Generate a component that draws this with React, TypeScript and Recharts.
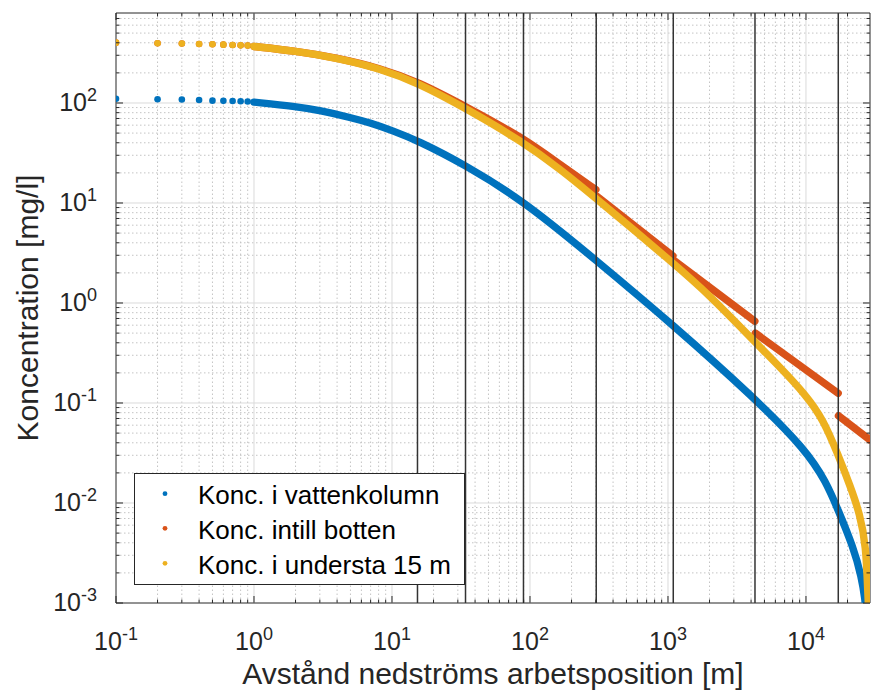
import React from 'react';
import {
  ComposedChart,
  Line,
  Scatter,
  XAxis,
  YAxis,
  ReferenceLine,
  ReferenceArea,
  Legend,
} from 'recharts';

const FONT = '"Liberation Sans", Arial, Helvetica, sans-serif';
const BLUE = '#0072BD';
const RED = '#D95319';
const YEL = '#EDB120';
const AX = '#262626';

const W = 871;
const H = 693;
const PT = 13;
const PB = 603;
const PL = 116;
const PR = 870;

const X_DOMAIN = [0.1, 29100];
const Y_DOMAIN = [0.001, 794];

// ticks
const xMajorTicks = [0.1, 1, 10, 100, 1000, 10000];
const yMajorTicks = [0.001, 0.01, 0.1, 1, 10, 100];
const minorFactors = [2, 3, 4, 5, 6, 7, 8, 9];

const xMinorTicks = xMajorTicks
  .flatMap((d) => minorFactors.map((m) => +(m * d).toPrecision(3)))
  .filter((v) => v < X_DOMAIN[1]);
const yMinorTicks = yMajorTicks
  .flatMap((d) => minorFactors.map((m) => +(m * d).toPrecision(3)))
  .filter((v) => v < Y_DOMAIN[1]);

const xAllTicks = [...xMajorTicks, ...xMinorTicks].sort((a, b) => a - b);
const yAllTicks = [...yMajorTicks, ...yMinorTicks].sort((a, b) => a - b);

// vertical black lines (section boundaries)
const sectionX = [15.3, 34.1, 89.7, 302, 1092, 4270, 17140];

// series names
const NAME_BLUE = 'Konc. i vattenkolumn';
const NAME_RED = 'Konc. intill botten';
const NAME_YEL = 'Konc. i understa 15 m';

// sparse first samples (x = 0.1 ... 0.9)
const sparseX = [0.1, 0.2, 0.3, 0.4, 0.5, 0.6, 0.7, 0.8, 0.9];
const sparseBlue = [110, 109, 108.5, 107, 105.5, 105, 104.5, 104, 103.5];
const sparseRed = [401, 396, 393, 389, 387, 383, 380, 377, 375];
const sparseYellow = [401, 396, 393, 389, 387, 383, 380, 377, 375];

// blue: Konc. i vattenkolumn
const blueX = [1, 2, 3, 5, 7, 10, 15.3, 34, 90, 300, 1090, 4270, 10000, 14000, 17100, 22000, 25300, 26800, 27300];
const blueY = [102, 92.3, 84.1, 71.6, 63.1, 53.1, 42.2, 24, 10.5, 2.69, 0.603, 0.111, 0.0339, 0.0162, 0.0085, 0.00363, 0.00182, 0.00107, 0.0008];

// yellow: Konc. i understa 15 m
const yelX = [1, 2, 4, 8.2, 15.5, 34.4, 89, 165, 300, 1090, 2000, 4270, 6460, 10000, 13400, 17100, 20800, 24600, 27200, 28000, 28500];
const yelY = [367, 331, 282, 221, 158, 88.1, 40.7, 21.9, 11.2, 2.51, 1.2, 0.407, 0.229, 0.12, 0.0676, 0.0302, 0.0151, 0.00776, 0.00372, 0.00132, 0.0008];

// red: Konc. intill botten, in segments
const red1X = [1, 2, 4, 8.2, 15.5, 34.4, 89, 165, 300];
const red1Y = [367, 331, 283, 223, 163, 92, 45, 24.2, 13.6];
const red2X = [303, 1085];
const red2Y = [11.8, 2.95];
const red3X = [1095, 4260];
const red3Y = [2.69, 0.656];
const red4X = [4290, 17100];
const red4Y = [0.5, 0.125];
const red5X = [17200, 29100];
const red5Y = [0.0745, 0.0427];

const pts = (xs: number[], ys: number[]) => xs.map((x, i) => ({ x, y: ys[i] }));

const legendItems = [
  { name: NAME_BLUE, color: BLUE },
  { name: NAME_RED, color: RED },
  { name: NAME_YEL, color: YEL },
];

const isMajor = (v: number) => {
  const l = Math.log10(v);
  return Math.abs(l - Math.round(l)) < 1e-6;
};

const XTick = (props: any) => {
  const { x, payload } = props;
  const v = payload.value;
  const major = isMajor(v);
  const len = major ? 7 : 3.5;
  const e = Math.round(Math.log10(v));
  return (
    <g>
      <line x1={x} y1={PB} x2={x} y2={PB - len} stroke={AX} strokeWidth={1} />
      <line x1={x} y1={PT} x2={x} y2={PT + len} stroke={AX} strokeWidth={1} />
      {major && (
        <text x={x} y={650} textAnchor="middle" fontSize={25} fill={AX} fontFamily={FONT}>
          10
          <tspan fontSize={18} dy={-10.5}>
            {e < 0 ? '-' + Math.abs(e) : String(e)}
          </tspan>
        </text>
      )}
    </g>
  );
};

const YTick = (props: any) => {
  const { y, payload } = props;
  const v = payload.value;
  const major = isMajor(v);
  const len = major ? 7 : 3.5;
  const e = Math.round(Math.log10(v));
  return (
    <g>
      <line x1={PL} y1={y} x2={PL + len} y2={y} stroke={AX} strokeWidth={1} />
      <line x1={PR} y1={y} x2={PR - len} y2={y} stroke={AX} strokeWidth={1} />
      {major && (
        <text x={97} y={y + 8} textAnchor="end" fontSize={25} fill={AX} fontFamily={FONT}>
          10
          <tspan fontSize={18} dy={-10}>
            {e < 0 ? '-' + Math.abs(e) : String(e)}
          </tspan>
        </text>
      )}
    </g>
  );
};

const XTitle = () => (
  <text x={(PL + PR) / 2} y={684} textAnchor="middle" fontSize={30} fill={AX} fontFamily={FONT}>
    Avstånd nedströms arbetsposition [m]
  </text>
);

const YTitle = () => (
  <text
    x={38}
    y={(PT + PB) / 2}
    transform={`rotate(-90, 38, ${(PT + PB) / 2})`}
    textAnchor="middle"
    fontSize={30}
    fill={AX}
    fontFamily={FONT}
  >
    Koncentration [mg/l]
  </text>
);

const LegendBox = () => {
  const dotY = [20.7, 55.3, 90.3];
  const textY = [31.3, 66, 100.5];
  return (
    <svg width={331} height={112} style={{ display: 'block' }}>
      <rect x={0.5} y={0.5} width={330} height={111} fill="#ffffff" stroke={AX} strokeWidth={1} />
      {legendItems.map((it, i) => (
        <g key={it.name}>
          <circle cx={31} cy={dotY[i]} r={2.4} fill={it.color} />
          <text x={64} y={textY[i]} fontSize={26} fill="#000" fontFamily={FONT}>
            {it.name}
          </text>
        </g>
      ))}
    </svg>
  );
};

const dotShape = (color: string) => (p: any) => <circle cx={p.cx} cy={p.cy} r={3.3} fill={color} />;

const lineCommon = {
  dataKey: 'y',
  dot: false,
  activeDot: false,
  isAnimationActive: false,
  strokeWidth: 7.4,
  strokeLinecap: 'round' as const,
  strokeLinejoin: 'round' as const,
  legendType: 'none' as const,
};

export default function App() {
  return (
    <div style={{ position: 'absolute', left: 0, top: 0, background: '#fff' }}>
      <ComposedChart
        width={W}
        height={H}
        margin={{ top: PT, right: W - PR, bottom: 0, left: 0 }}
        style={{ fontFamily: FONT }}
      >
        <XAxis
          type="number"
          dataKey="x"
          scale="log"
          domain={X_DOMAIN}
          allowDataOverflow
          ticks={xAllTicks}
          interval={0}
          tick={(p: any) => <XTick {...p} />}
          tickLine={false}
          axisLine={false}
          height={H - PB}
          label={<XTitle />}
        />
        <YAxis
          type="number"
          dataKey="y"
          scale="log"
          domain={Y_DOMAIN}
          allowDataOverflow
          ticks={yAllTicks}
          interval={0}
          tick={(p: any) => <YTick {...p} />}
          tickLine={false}
          axisLine={false}
          width={PL}
          label={<YTitle />}
        />

        {xMinorTicks.map((v) => (
          <ReferenceLine key={'xm' + v} x={v} stroke="#c4c4c4" strokeDasharray="1.5 2.5" strokeWidth={1} />
        ))}
        {yMinorTicks.map((v) => (
          <ReferenceLine key={'ym' + v} y={v} stroke="#c4c4c4" strokeDasharray="1.5 2.5" strokeWidth={1} />
        ))}
        {xMajorTicks.slice(1).map((v) => (
          <ReferenceLine key={'xM' + v} x={v} stroke="#dadada" strokeWidth={1} />
        ))}
        {yMajorTicks.slice(1).map((v) => (
          <ReferenceLine key={'yM' + v} y={v} stroke="#dadada" strokeWidth={1} />
        ))}

        <Scatter name={NAME_BLUE} data={pts(sparseX, sparseBlue)} dataKey="y" fill={BLUE} shape={dotShape(BLUE)} isAnimationActive={false} legendType="none" />
        <Line {...lineCommon} type="basis" name={NAME_BLUE} data={pts(blueX, blueY)} stroke={BLUE} />

        <Scatter name={NAME_RED} data={pts(sparseX, sparseRed)} dataKey="y" fill={RED} shape={dotShape(RED)} isAnimationActive={false} legendType="none" />
        <Line {...lineCommon} type="basis" name={NAME_RED} data={pts(red1X, red1Y)} stroke={RED} />
        <Line {...lineCommon} type="linear" name={NAME_RED + ' 2'} data={pts(red2X, red2Y)} stroke={RED} />
        <Line {...lineCommon} type="linear" name={NAME_RED + ' 3'} data={pts(red3X, red3Y)} stroke={RED} />
        <Line {...lineCommon} type="linear" name={NAME_RED + ' 4'} data={pts(red4X, red4Y)} stroke={RED} />
        <Line {...lineCommon} type="linear" name={NAME_RED + ' 5'} data={pts(red5X, red5Y)} stroke={RED} />

        <Scatter name={NAME_YEL} data={pts(sparseX, sparseYellow)} dataKey="y" fill={YEL} shape={dotShape(YEL)} isAnimationActive={false} legendType="none" />
        <Line {...lineCommon} type="basis" name={NAME_YEL} data={pts(yelX, yelY)} stroke={YEL} />

        {sectionX.map((v) => (
          <ReferenceLine key={'s' + v} x={v} stroke="#333333" strokeWidth={1.5} />
        ))}

        <ReferenceArea
          x1={X_DOMAIN[0]}
          x2={X_DOMAIN[1]}
          y1={Y_DOMAIN[0]}
          y2={Y_DOMAIN[1]}
          fill="none"
          fillOpacity={0}
          stroke={AX}
          strokeWidth={1}
        />

        <Legend
          layout="vertical"
          align="center"
          verticalAlign="middle"
          wrapperStyle={{ position: 'absolute', left: 134, top: 473, width: 331, height: 112 }}
          content={() => <LegendBox />}
        />
      </ComposedChart>
    </div>
  );
}
